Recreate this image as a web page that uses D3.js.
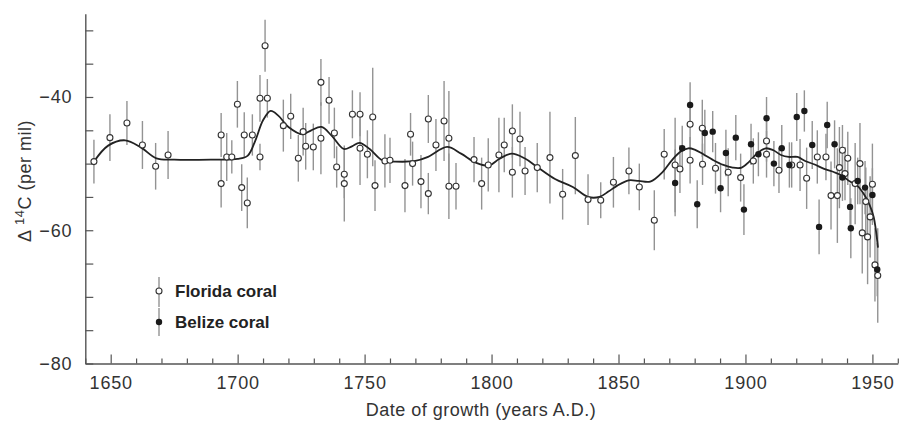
<!DOCTYPE html>
<html>
<head>
<meta charset="utf-8">
<script src="https://cdn.jsdelivr.net/npm/d3@7"></script>
<style>
body{margin:0;background:#fff;}
svg{display:block;font-family:"Liberation Sans",Arial,sans-serif;}
</style>
</head>
<body>
<div id="chart"></div>
<script>
// Florida coral (open circles)
var floridaYear = [1643.4,1649.7,1656.4,1662.5,1667.7,1672.6,1693.5,1693.5,1695.7,1697.7,1699.9,1701.6,1702.6,1703.8,1705.8,1708.8,1708.8,1710.8,1711.7,1718.0,1720.9,1723.9,1725.8,1726.8,1729.8,1732.8,1732.8,1736.0,1738.1,1739.0,1742.0,1742.0,1745.2,1748.2,1748.2,1751.1,1753.2,1754.1,1758.0,1760.0,1765.9,1768.1,1768.9,1772.2,1775.1,1775.1,1778.1,1781.3,1783.2,1783.2,1786.0,1793.1,1796.1,1798.7,1802.9,1805.0,1808.2,1808.2,1811.2,1813.2,1818.0,1823.0,1828.0,1833.0,1838.0,1843.0,1848.0,1854.1,1858.2,1864.1,1868.0,1872.3,1874.2,1878.2,1878.2,1883.0,1883.1,1888.2,1893.2,1898.1,1903.1,1908.3,1908.3,1913.2,1918.2,1921.5,1924.1,1928.3,1931.7,1933.7,1936.2,1937.0,1938.2,1939.2,1940.3,1943.2,1945.1,1946.0,1947.4,1948.1,1949.1,1950.0,1951.0,1952.1];
var floridaD14C = [-49.7,-46.1,-43.9,-47.2,-50.4,-48.7,-45.7,-53.0,-49.0,-49.0,-41.1,-53.6,-45.7,-55.9,-45.7,-49.0,-40.2,-32.3,-40.2,-44.3,-42.9,-49.2,-45.2,-47.4,-47.5,-37.8,-46.2,-40.5,-45.4,-50.5,-51.6,-53.0,-42.6,-42.6,-47.7,-48.6,-43.0,-53.3,-49.6,-49.5,-53.3,-45.6,-50.0,-52.7,-43.3,-54.5,-47.2,-43.6,-46.2,-53.4,-53.4,-49.4,-53.0,-50.2,-48.7,-47.2,-45.1,-51.3,-46.3,-51.1,-50.6,-49.1,-54.6,-48.8,-55.4,-55.5,-52.8,-51.1,-53.5,-58.5,-48.6,-50.2,-50.8,-44.1,-49.5,-44.7,-50.1,-50.7,-51.3,-52.1,-49.6,-46.6,-48.6,-51.0,-50.2,-50.2,-52.2,-49.0,-49.0,-54.8,-54.8,-50.6,-48.0,-51.5,-49.2,-53.0,-50.0,-60.4,-55.7,-61.0,-58.0,-53.1,-65.2,-66.8];
var floridaErr = [3.3,3.5,3.3,3.6,3.5,3.6,3.3,3.6,3.6,2.5,3.5,3.5,3.4,3.8,3.1,2.0,3.5,3.9,2.9,3.9,3.4,3.5,3.6,3.5,3.5,3.5,5.4,3.5,3.8,3.1,3.6,5.7,3.6,3.3,5.5,3.6,7.4,3.8,4.0,3.4,4.0,3.2,3.3,4.0,3.6,3.1,3.9,6.0,7.1,4.9,3.5,3.4,3.9,4.0,5.6,4.1,4.0,3.8,4.1,3.6,3.7,6.9,3.8,5.8,3.8,2.7,3.8,3.5,3.5,4.5,3.8,7.1,3.6,3.5,3.5,4.3,3.1,3.8,3.6,3.6,3.4,3.1,3.5,3.4,3.4,3.9,4.6,4.0,3.5,5.1,7.1,6.1,3.8,4.0,4.0,6.1,6.1,6.1,5.1,7.1,6.1,6.1,5.5,7.1];

// Belize coral (filled circles)
var belizeYear = [1872.3,1875.1,1878.2,1881.0,1884.0,1887.1,1890.2,1892.3,1896.2,1899.4,1902.2,1905.1,1908.3,1911.2,1914.3,1917.3,1920.2,1923.2,1926.3,1929.0,1932.2,1935.1,1938.2,1941.2,1941.5,1944.2,1947.1,1950.0,1951.9];
var belizeD14C = [-52.9,-47.7,-41.2,-56.1,-45.4,-45.2,-53.7,-48.4,-46.1,-56.9,-47.1,-48.6,-43.2,-50.0,-47.7,-50.2,-43.0,-42.1,-47.2,-59.5,-44.2,-47.1,-52.1,-56.5,-59.7,-52.6,-53.6,-54.7,-65.9];
var belizeErr = [5.0,3.4,3.4,3.6,3.5,3.1,3.6,3.5,3.4,3.8,3.1,3.3,3.2,3.4,3.5,3.4,3.6,3.1,3.6,4.1,3.5,3.6,3.5,3.5,4.5,3.5,4.0,4.0,4.0];

// smoothed curve through the record
var fitYear = [1643.4,1649,1655.7,1662,1668,1675,1690,1700,1704,1707,1710,1713,1716,1720,1725.5,1729,1733,1737,1741.8,1745,1748,1752,1757,1762,1770,1775,1782.5,1788,1794,1799,1803,1808,1813,1818,1825,1832,1838,1842.5,1846,1849.5,1854,1858,1862.5,1867.5,1871,1874.5,1877.5,1880,1883.4,1887,1891.3,1895,1898.5,1901.5,1904.5,1908,1911,1914,1917,1920.5,1923.5,1927,1931,1935,1938,1941.2,1944,1946.5,1949,1950.5,1951.3,1952.2];
var fitD14C = [-49.7,-47.3,-46.5,-47.6,-49.2,-49.4,-49.4,-49.3,-48.8,-46.5,-43.5,-42.1,-42.8,-44.5,-45.6,-45.0,-44.5,-45.8,-47.8,-47.4,-46.9,-47.8,-49.5,-49.7,-49.6,-49.0,-47.5,-48.5,-49.9,-50.3,-49.3,-48.5,-49.2,-50.5,-52.3,-53.5,-55.0,-55.0,-54.2,-53.3,-52.5,-52.6,-52.7,-51.2,-49.5,-48.2,-47.7,-47.9,-48.6,-49.4,-50.2,-50.6,-50.6,-49.7,-48.5,-47.7,-48.0,-48.7,-49.0,-49.0,-49.6,-50.1,-50.8,-51.3,-51.8,-52.7,-53.3,-54.5,-56.3,-58.0,-59.8,-62.6];

var xTickLabels = [1650,1700,1750,1800,1850,1900,1950];
var yTickLabels = [-80,-60,-40];
var legendLabels = ['Florida coral','Belize coral'];

var width = 901, height = 421;

var florida = floridaYear.map(function(d,i){ return {year:d, v:floridaD14C[i], e:floridaErr[i]}; });
var belize = belizeYear.map(function(d,i){ return {year:d, v:belizeD14C[i], e:belizeErr[i]}; });
var fit = fitYear.map(function(d,i){ return {year:d, v:fitD14C[i]}; });

var x = d3.scaleLinear().domain([1640,1960]).range([85.3,897.8]);
var y = d3.scaleLinear().domain([-80,-27.5]).range([363.5,13.7]);

var svg = d3.select('#chart').append('svg')
  .attr('width',width)
  .attr('height',height);

// axes
var yAxis = d3.axisLeft(y)
  .tickValues(d3.range(-80,-29,5))
  .tickSize(-8)
  .tickSizeOuter(0)
  .tickPadding(13)
  .tickFormat(function(d){ return yTickLabels.indexOf(d) >= 0 ? d3.format('d')(d) : ''; });

var gy = svg.append('g')
  .attr('transform','translate('+x(1640)+',0)')
  .call(yAxis);

var xAxis = d3.axisBottom(x)
  .tickValues(d3.range(1640,1961,10))
  .tickSize(-5)
  .tickSizeOuter(0)
  .tickPadding(13)
  .tickFormat(function(d){ return xTickLabels.indexOf(d) >= 0 ? d : ''; });

var gx = svg.append('g')
  .attr('transform','translate(0,'+y(-80)+')')
  .call(xAxis);

gx.selectAll('.tick line')
  .attr('y2',function(d){ return d % 50 == 0 ? -9 : -5; });

svg.selectAll('.domain').attr('stroke','#555').attr('stroke-width',1.4);
svg.selectAll('.tick line').attr('stroke','#555').attr('stroke-width',1.2);
svg.selectAll('.tick text')
  .style('font-size','18px')
  .style('letter-spacing','0.8px')
  .style('fill','#333');

// axis titles
svg.append('text')
  .attr('x',481)
  .attr('y',416)
  .attr('text-anchor','middle')
  .style('font-size','18px')
  .style('letter-spacing','0.5px')
  .style('fill','#333')
  .text('Date of growth (years A.D.)');

var ytitle = svg.append('text')
  .attr('transform','translate(31,181) rotate(-90)')
  .attr('text-anchor','middle')
  .style('font-size','18px')
  .style('letter-spacing','0.5px')
  .style('fill','#333');
ytitle.append('tspan').text('\u0394 ');
ytitle.append('tspan').attr('dy',-7).style('font-size','13px').text('14');
ytitle.append('tspan').attr('dy',7).text('C (per mil)');

// error bars
function bars(data){
  svg.append('g').selectAll('line')
    .data(data)
    .enter()
    .append('line')
    .attr('x1',function(d){ return x(d.year); })
    .attr('x2',function(d){ return x(d.year); })
    .attr('y1',function(d){ return y(d.v - d.e); })
    .attr('y2',function(d){ return y(d.v + d.e); })
    .attr('stroke','#939393')
    .attr('stroke-width',1.4);
}
bars(florida);
bars(belize);

// fitted curve
var line = d3.line()
  .x(function(d){ return x(d.year); })
  .y(function(d){ return y(d.v); })
  .curve(d3.curveCatmullRom.alpha(0.5));

svg.append('path')
  .datum(fit)
  .attr('d',line)
  .attr('fill','none')
  .attr('stroke','#222')
  .attr('stroke-width',1.8);

// points
svg.append('g').selectAll('circle')
  .data(florida)
  .enter()
  .append('circle')
  .attr('cx',function(d){ return x(d.year); })
  .attr('cy',function(d){ return y(d.v); })
  .attr('r',3)
  .attr('fill','#fff')
  .attr('stroke','#333')
  .attr('stroke-width',1.1);

svg.append('g').selectAll('circle')
  .data(belize)
  .enter()
  .append('circle')
  .attr('cx',function(d){ return x(d.year); })
  .attr('cy',function(d){ return y(d.v); })
  .attr('r',3.2)
  .attr('fill','#1a1a1a');

// legend
var legend = svg.append('g');

legend.append('line')
  .attr('x1',159).attr('x2',159)
  .attr('y1',277).attr('y2',307)
  .attr('stroke','#939393').attr('stroke-width',1.4);
legend.append('circle')
  .attr('cx',159).attr('cy',291).attr('r',3)
  .attr('fill','#fff').attr('stroke','#333').attr('stroke-width',1.1);
legend.append('text')
  .attr('x',175).attr('y',291).attr('dy','0.35em')
  .style('font-size','17px').style('font-weight','bold').style('fill','#222')
  .text(legendLabels[0]);

legend.append('line')
  .attr('x1',159).attr('x2',159)
  .attr('y1',308).attr('y2',336)
  .attr('stroke','#939393').attr('stroke-width',1.4);
legend.append('circle')
  .attr('cx',159).attr('cy',322).attr('r',3.2)
  .attr('fill','#1a1a1a');
legend.append('text')
  .attr('x',175).attr('y',322).attr('dy','0.35em')
  .style('font-size','17px').style('font-weight','bold').style('fill','#222')
  .text(legendLabels[1]);
</script>
</body>
</html>
